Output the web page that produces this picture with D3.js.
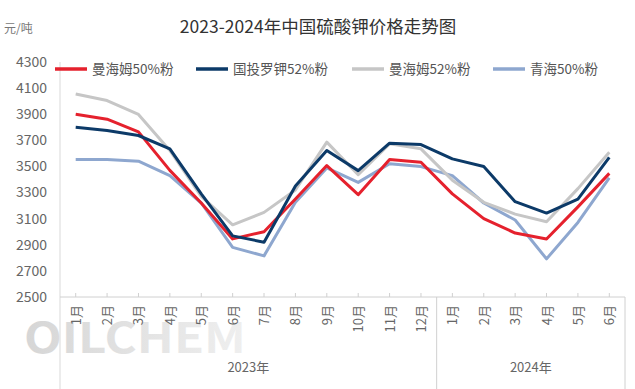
<!DOCTYPE html>
<html>
<head>
<meta charset="utf-8">
<script src="https://cdn.jsdelivr.net/npm/d3@7"></script>
<style>
  body { margin: 0; background: #fff; }
  text { font-family: "Noto Sans CJK SC", "Noto Sans", sans-serif; }
</style>
</head>
<body>
<div id="chart"></div>
<script>
// data
const months = ["1月","2月","3月","4月","5月","6月","7月","8月","9月","10月","11月","12月",
                "1月","2月","3月","4月","5月","6月"]
const years = [{label: "2023年", from: 0, to: 12}, {label: "2024年", from: 12, to: 18}]
const series_names = ["曼海姆50%粉", "国投罗钾52%粉", "曼海姆52%粉", "青海50%粉"]
const series_colors = ["#e5212d", "#0c3a68", "#c6c6c6", "#8ea7cf"]

const red_values   = [3900, 3862, 3765, 3470, 3220, 2945, 3000, 3250, 3507, 3284, 3553, 3532, 3290, 3100, 2990, 2944, 3190, 3447]
const navy_values  = [3800, 3775, 3737, 3635, 3290, 2968, 2920, 3350, 3622, 3468, 3678, 3668, 3558, 3499, 3230, 3143, 3250, 3570]
const gray_values  = [4055, 4005, 3898, 3622, 3270, 3053, 3148, 3320, 3686, 3437, 3673, 3635, 3395, 3225, 3135, 3077, 3330, 3609]
const light_values = [3553, 3553, 3540, 3430, 3220, 2880, 2815, 3225, 3489, 3378, 3520, 3499, 3430, 3220, 3090, 2792, 3071, 3412]
const all_values = [red_values, navy_values, gray_values, light_values]

const y_ticks = [2500, 2700, 2900, 3100, 3300, 3500, 3700, 3900, 4100, 4300]

// layout
const width = 635, height = 389
const margin = {left: 60, right: 10, top: 62, bottom: 92}

const svg = d3.select("#chart").append("svg")
  .attr("width", width)
  .attr("height", height)

const x = d3.scaleBand()
  .domain(d3.range(months.length))
  .range([margin.left, width - margin.right])

const y = d3.scaleLinear()
  .domain([2500, 4300])
  .range([height - margin.bottom, margin.top])

// title
svg.append("text")
  .attr("x", 318).attr("y", 33)
  .attr("text-anchor", "middle")
  .attr("font-size", 17.5)
  .attr("fill", "#333")
  .text("2023-2024年中国硫酸钾价格走势图")

svg.append("text")
  .attr("x", 4).attr("y", 33)
  .attr("font-size", 12)
  .attr("fill", "#777")
  .text("元/吨")

// watermark
const grad = svg.append("defs").append("linearGradient")
  .attr("id", "wm")
  .attr("x1", "0%").attr("x2", "100%")
grad.append("stop").attr("offset", "0%").attr("stop-color", "#d6d6d6")
grad.append("stop").attr("offset", "100%").attr("stop-color", "#efefef")

svg.append("text")
  .attr("x", 24).attr("y", 353)
  .attr("font-size", 42)
  .attr("font-weight", "bold")
  .attr("font-family", "Liberation Sans, sans-serif")
  .attr("fill", "url(#wm)")
  .attr("textLength", 222)
  .attr("lengthAdjust", "spacingAndGlyphs")
  .text("OILCHEM")

// y axis labels
svg.append("g")
  .selectAll("text")
  .data(y_ticks)
  .join("text")
  .attr("x", 47)
  .attr("y", d => y(d))
  .attr("dy", "0.35em")
  .attr("text-anchor", "end")
  .attr("font-size", 14)
  .attr("fill", "#666")
  .text(d => d)

// y axis line
svg.append("line")
  .attr("x1", margin.left).attr("x2", margin.left)
  .attr("y1", margin.top).attr("y2", height)
  .attr("stroke", "#d9d9d9")

// x axis line + ticks
const x_bottom = y(2500)
svg.append("line")
  .attr("x1", margin.left).attr("x2", width - margin.right)
  .attr("y1", x_bottom).attr("y2", x_bottom)
  .attr("stroke", "#d0d0d0")

svg.append("g")
  .selectAll("line")
  .data(d3.range(months.length))
  .join("line")
  .attr("x1", d => x(d) + x.bandwidth() / 2)
  .attr("x2", d => x(d) + x.bandwidth() / 2)
  .attr("y1", x_bottom).attr("y2", x_bottom - 4)
  .attr("stroke", "#d0d0d0")

// month labels, rotated
svg.append("g")
  .selectAll("text")
  .data(months)
  .join("text")
  .attr("transform", (d, i) => `translate(${x(i) + x.bandwidth() / 2 + 5},${x_bottom + 8}) rotate(-90)`)
  .attr("text-anchor", "end")
  .attr("font-size", 13)
  .attr("fill", "#666")
  .text(d => d)

// year groups
const x_end = width - margin.right
svg.append("g")
  .selectAll("line")
  .data(years)
  .join("line")
  .attr("x1", d => d.to < months.length ? x(d.to) : x_end)
  .attr("x2", d => d.to < months.length ? x(d.to) : x_end)
  .attr("y1", x_bottom).attr("y2", height)
  .attr("stroke", "#d0d0d0")

svg.append("g")
  .selectAll("text")
  .data(years)
  .join("text")
  .attr("x", d => ((d.from < months.length ? x(d.from) : x_end) + (d.to < months.length ? x(d.to) : x_end)) / 2)
  .attr("y", 372)
  .attr("text-anchor", "middle")
  .attr("font-size", 13)
  .attr("fill", "#666")
  .text(d => d.label)

// lines
const line = d3.line()
  .x((d, i) => x(i) + x.bandwidth() / 2)
  .y(d => y(d))

// draw order: light, gray, red, navy on top
const draw_order = [3, 2, 0, 1]
svg.append("g")
  .selectAll("path")
  .data(draw_order)
  .join("path")
  .attr("d", k => line(all_values[k]))
  .attr("fill", "none")
  .attr("stroke", k => series_colors[k])
  .attr("stroke-width", 3)
  .attr("stroke-linejoin", "round")

// legend
const legend_x = [55, 196, 352, 493]
const legend = svg.append("g")
  .selectAll("g")
  .data(series_names)
  .join("g")
  .attr("transform", (d, i) => `translate(${legend_x[i]},69)`)

legend.append("line")
  .attr("x1", 0).attr("x2", 32)
  .attr("stroke", (d, i) => series_colors[i])
  .attr("stroke-width", 3.5)

legend.append("text")
  .attr("x", 37)
  .attr("dy", "0.35em")
  .attr("font-size", 13.5)
  .attr("fill", "#555")
  .text(d => d)
</script>
</body>
</html>
